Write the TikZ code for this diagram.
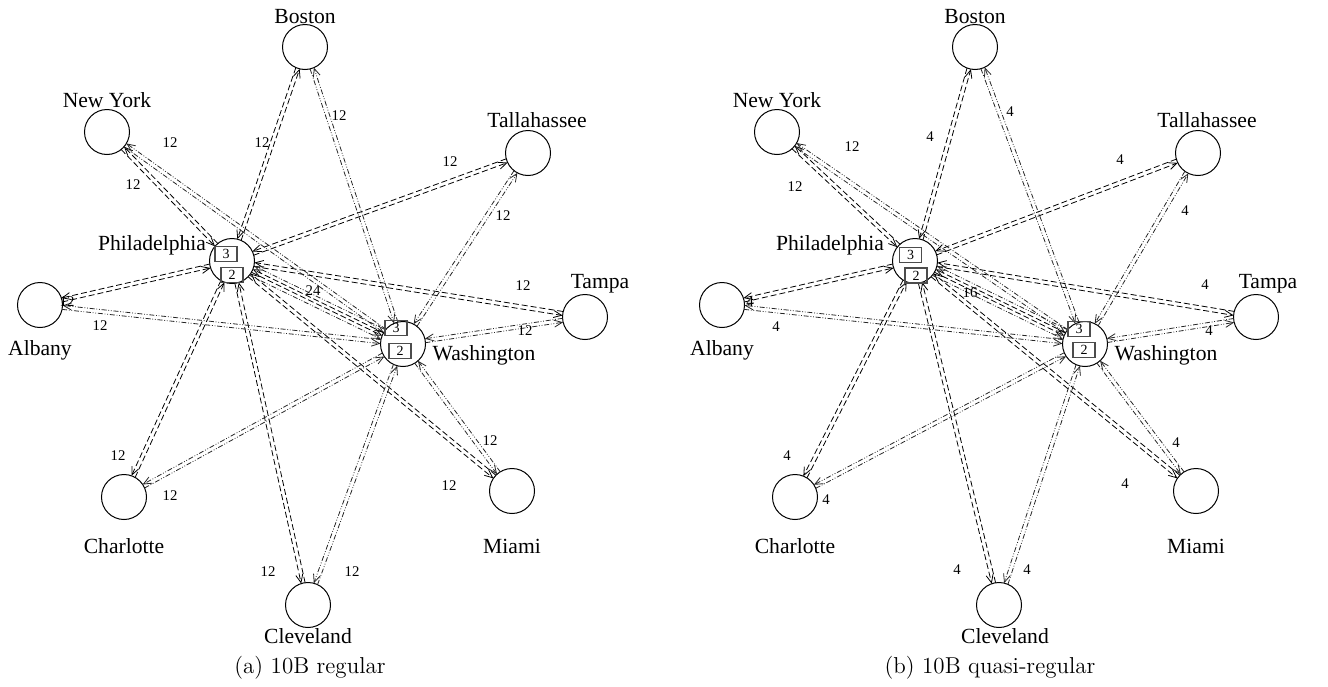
\documentclass[tikz,border=0pt]{standalone}
\usepackage{fontspec}
\newfontfamily\cityfont{Liberation Serif}
\usetikzlibrary{arrows.meta,calc}

\tikzset{
  city/.style={circle,draw,line width=0.5pt,minimum size=22.5pt,inner sep=0pt},
  cityname/.style={font=\cityfont\fontsize{10.8}{12}\selectfont,inner sep=0.75pt},
  weight/.style={font=\cityfont\fontsize{7.4}{8}\selectfont,inner sep=0.75pt},
  slot/.style={draw=black!70,line width=0.55pt,minimum width=11pt,minimum height=7.5pt,inner sep=0pt,font=\cityfont\fontsize{7}{7}\selectfont},
  phlflow/.style={dash pattern=on 3pt off 1.5pt,line width=0.4pt},
  wasflow/.style={dash pattern=on 2.5pt off 0.9pt on 0.4pt off 0.9pt on 0.4pt off 0.9pt,line width=0.4pt,draw=black!85},
  subcap/.style={font=\fontsize{11.5}{13}\selectfont,inner sep=0pt},
  >={Straight Barb[length=4pt,width=3.5pt]}
}

% one link each way between #1 and #2, #4 = offset from the centre line
\newcommand{\flowpair}[4]{%
  \draw[#3,->,shorten <=11.2pt,shorten >=11.2pt] ($(#1.center)!#4!90:(#2.center)$) -- ($(#2.center)!#4!-90:(#1.center)$);
  \draw[#3,->,shorten <=11.2pt,shorten >=11.2pt] ($(#2.center)!#4!90:(#1.center)$) -- ($(#1.center)!#4!-90:(#2.center)$);
}

\begin{document}
\begin{tikzpicture}[x=0.5pt,y=0.5pt,yscale=-1,xscale=1]
\useasboundingbox (0,0) rectangle (1328,686);

%%%%%%%%%%%%%%%% (a) regular
% Cities
\node[city] (bosA) at (305,47) {};
\node[city] (nycA) at (107,132) {};
\node[city] (talA) at (528,153) {};
\node[city] (phlA) at (232,261) {};
\node[city] (tpaA) at (585,317) {};
\node[city] (albA) at (40,305) {};
\node[city] (wasA) at (403,344) {};
\node[city] (cltA) at (124,497) {};
\node[city] (miaA) at (512,491) {};
\node[city] (cleA) at (308,605) {};

% Flows from the two hubs
\foreach \c in {bosA,nycA,talA,tpaA,albA,cltA,miaA,cleA}
  {\flowpair{phlA}{\c}{phlflow}{1pt}}
\foreach \c in {bosA,nycA,talA,tpaA,albA,cltA,miaA,cleA}
  {\flowpair{wasA}{\c}{wasflow}{1pt}}
\flowpair{phlA}{wasA}{phlflow}{0.8pt}
\flowpair{phlA}{wasA}{wasflow}{2.6pt}

% Slots in the hubs
\node[slot] (phlA3) at (226,254) {3};
\node[slot] (phlA2) at (232,275) {2};
\node[slot] (wasA3) at (396,328) {3};
\node[slot] (wasA2) at (400,351) {2};

% Text Node
\node[cityname] (bosAt) at (305,17) {Boston};
\node[cityname] (nycAt) at (107,100) {New York};
\node[cityname] (talAt) at (537,120) {Tallahassee};
\node[cityname] (phlAt) at (152,245) {Philadelphia};
\node[cityname] (tpaAt) at (600,284) {Tampa};
\node[cityname] (albAt) at (40,350) {Albany};
\node[cityname] (wasAt) at (484,355) {Washington};
\node[cityname] (cltAt) at (124,546) {Charlotte};
\node[cityname] (miaAt) at (512,546) {Miami};
\node[cityname] (cleAt) at (308,636) {Cleveland};

% Weights
\node[weight] (wA1) at (262,143) {12};
\node[weight] (wA2) at (339,116) {12};
\node[weight] (wA3) at (170,143) {12};
\node[weight] (wA4) at (133,185) {12};
\node[weight] (wA5) at (450,162) {12};
\node[weight] (wA6) at (503,216) {12};
\node[weight] (wA7) at (67,302) {12};
\node[weight] (wA8) at (100,326) {12};
\node[weight] (wA9) at (523,286) {12};
\node[weight] (wA10) at (525,331) {12};
\node[weight] (wA11) at (313,291) {24};
\node[weight] (wA12) at (118,456) {12};
\node[weight] (wA13) at (170,496) {12};
\node[weight] (wA14) at (268,572) {12};
\node[weight] (wA15) at (352,572) {12};
\node[weight] (wA16) at (490,441) {12};
\node[weight] (wA17) at (449,486) {12};

\node[subcap] (capA) at (310,668) {(a)\ 10B regular};

%%%%%%%%%%%%%%%% (b) quasi-regular
% Cities
\node[city] (bosB) at (975,47) {};
\node[city] (nycB) at (777,132) {};
\node[city] (talB) at (1198,153) {};
\node[city] (phlB) at (915,261) {};
\node[city] (tpaB) at (1256,317) {};
\node[city] (albB) at (722,305) {};
\node[city] (wasB) at (1085,344) {};
\node[city] (cltB) at (795,497) {};
\node[city] (miaB) at (1196,491) {};
\node[city] (cleB) at (999,605) {};

% Flows from the two hubs
\foreach \c in {bosB,nycB,talB,tpaB,albB,cltB,miaB,cleB}
  {\flowpair{phlB}{\c}{phlflow}{1pt}}
\foreach \c in {bosB,nycB,talB,tpaB,albB,cltB,miaB,cleB}
  {\flowpair{wasB}{\c}{wasflow}{1pt}}
\flowpair{phlB}{wasB}{phlflow}{0.8pt}
\flowpair{phlB}{wasB}{wasflow}{2.6pt}

% Slots in the hubs
\node[slot] (phlB3) at (910.5,255) {3};
\node[slot] (phlB2) at (916,275.5) {2};
\node[slot] (wasB3) at (1079,329) {3};
\node[slot] (wasB2) at (1084,350) {2};

% Text Node
\node[cityname] (bosBt) at (975,17) {Boston};
\node[cityname] (nycBt) at (777,100) {New York};
\node[cityname] (talBt) at (1207,120) {Tallahassee};
\node[cityname] (phlBt) at (830,245) {Philadelphia};
\node[cityname] (tpaBt) at (1268,284) {Tampa};
\node[cityname] (albBt) at (722,350) {Albany};
\node[cityname] (wasBt) at (1166,355) {Washington};
\node[cityname] (cltBt) at (795,546) {Charlotte};
\node[cityname] (miaBt) at (1196,546) {Miami};
\node[cityname] (cleBt) at (1005,636) {Cleveland};

% Weights
\node[weight] (wB1) at (930,137) {4};
\node[weight] (wB2) at (1010,112) {4};
\node[weight] (wB3) at (852,147) {12};
\node[weight] (wB4) at (795,187) {12};
\node[weight] (wB5) at (1120,160) {4};
\node[weight] (wB6) at (1185,211) {4};
\node[weight] (wB7) at (750,302) {4};
\node[weight] (wB8) at (776,327) {4};
\node[weight] (wB9) at (1205,285) {4};
\node[weight] (wB10) at (1209,331) {4};
\node[weight] (wB11) at (970,293) {16};
\node[weight] (wB12) at (787,456) {4};
\node[weight] (wB13) at (826,500) {4};
\node[weight] (wB14) at (957,570) {4};
\node[weight] (wB15) at (1027,570) {4};
\node[weight] (wB16) at (1176,443) {4};
\node[weight] (wB17) at (1125,484) {4};

\node[subcap] (capB) at (990,668) {(b)\ 10B quasi-regular};

\end{tikzpicture}
\end{document}
